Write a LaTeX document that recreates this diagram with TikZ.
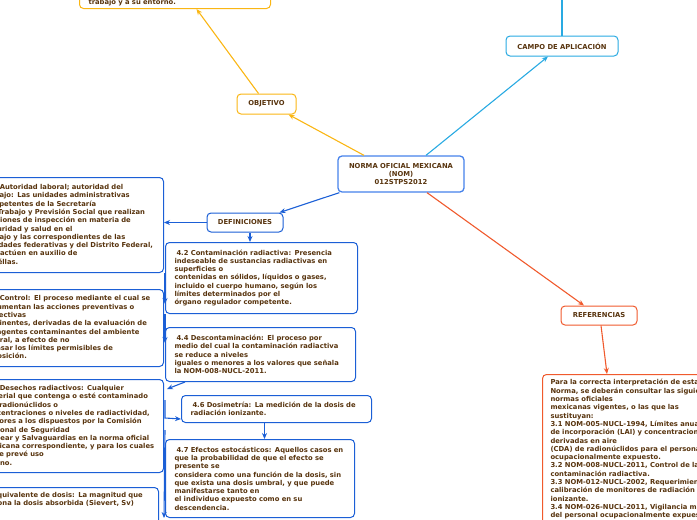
\documentclass[tikz,border=0pt]{standalone}
\usepackage{fontspec}
\setmainfont{DejaVu Sans}
\usetikzlibrary{arrows.meta}
\definecolor{tbrown}{RGB}{88,52,14}
\definecolor{bl}{RGB}{27,95,214}
\definecolor{lbl}{RGB}{41,170,226}
\definecolor{gold}{RGB}{250,182,20}
\definecolor{ored}{RGB}{240,90,45}
\newcommand{\tf}{\fontsize{6.8}{8.3}\selectfont\bfseries}
\begin{document}
\begin{tikzpicture}[x=1pt,y=-1pt,
  base/.style={fill=white, rounded corners=4pt, line width=1pt, text=tbrown, font=\tf},
  tbox/.style={base, align=left, anchor=north west, inner xsep=9pt, inner ysep=5pt},
  lbox/.style={tbox, draw=bl, inner xsep=4pt},
  sbox/.style={base, align=center, inner sep=2pt},
  con/.style={line width=1.1pt},
  arr/.style={con, -{Stealth[length=6pt,width=5pt]}}]
\useasboundingbox (0,0) rectangle (697,520);
\clip (0,0) rectangle (697,520);

% top objective box (mostly off page)
\node[tbox, draw=gold, anchor=south west, inner ysep=3pt, text width=173pt] (top) at (79,9)
 {Establecer las condiciones de seguridad e\\ higiene en los centros de trabajo donde\\ se manejen fuentes de radiaci\'on\\ ionizante, para prevenir riesgos al centro\\ trabajo y a su entorno.};

\node[sbox, draw=gold, minimum width=59pt, minimum height=20pt] (obj) at (266.5,104) {OBJETIVO};
\node[sbox, draw=lbl, minimum width=112pt, minimum height=20pt] (campo) at (562,46) {CAMPO DE APLICACIÓN};
\node[sbox, draw=ored, minimum width=76pt, minimum height=19pt] (ref) at (599,315.5) {REFERENCIAS};
\node[sbox, draw=bl, minimum width=76pt, minimum height=19pt] (def) at (245,222.5) {DEFINICIONES};
\node[sbox, draw={rgb,255:red,70;green,130;blue,235}, line width=1.3pt, minimum width=126pt, minimum height=36pt] (main) at (401,174)
 {NORMA OFICIAL MEXICANA\\(NOM)\\012STPS2012};

% definitions
\node[lbox, text width=176pt, minimum height=95pt] (lb1) at (-21,177)
 {\hspace{2pt}4.1 Autoridad laboral; autoridad del\\
 trabajo: Las unidades administrativas\\
 competentes de la Secretaría\\
 del Trabajo y Previsión Social que realizan\\
 funciones de inspección en materia de\\
 seguridad y salud en el\\
 trabajo y las correspondientes de las\\
 entidades federativas y del Distrito Federal,\\
 que actúen en auxilio de\\
 aquéllas.};
\node[tbox, draw=bl, text width=174pt, minimum height=71pt] (n42) at (165,242)
 {\hspace{2pt}4.2 Contaminación radiactiva: Presencia\\
 indeseable de sustancias radiactivas en\\
 superficies o\\
 contenidas en sólidos, líquidos o gases,\\
 incluido el cuerpo humano, según los\\
 límites determinados por el\\
 órgano regulador competente.};
\node[lbox, text width=176pt, minimum height=77pt] (lb2) at (-21,289)
 {\hspace{2pt}4.3 Control: El proceso mediante el cual se\\
 documentan las acciones preventivas o\\
 correctivas\\
 pertinentes, derivadas de la evaluación de\\
 los agentes contaminantes del ambiente\\
 laboral, a efecto de no\\
 rebasar los límites permisibles de\\
 exposición.};
\node[tbox, draw=bl, text width=172pt, minimum height=54pt] (n44) at (165,327)
 {\hspace{2pt}4.4 Descontaminación: El proceso por\\
 medio del cual la contaminación radiactiva\\
 se reduce a niveles\\
 iguales o menores a los valores que señala\\
 la NOM-008-NUCL-2011.};
\node[lbox, text width=176pt, minimum height=93pt] (lb3) at (-21,379)
 {\hspace{2pt}4.5 Desechos radiactivos: Cualquier\\
 material que contenga o esté contaminado\\
 con radionúclidos o\\
 concentraciones o niveles de radiactividad,\\
 mayores a los dispuestos por la Comisión\\
 Nacional de Seguridad\\
 Nuclear y Salvaguardias en la norma oficial\\
 mexicana correspondiente, y para los cuales\\
 no se prevé uso\\
 alguno.};
\node[tbox, draw=bl, text width=172pt, minimum height=27pt] (n46) at (181,395)
 {\hspace{2pt}4.6 Dosimetría: La medición de la dosis de\\
 radiación ionizante.};
\node[tbox, draw=bl, text width=171pt, minimum height=78pt] (n47) at (165,439)
 {\hspace{2pt}4.7 Efectos estocásticos: Aquellos casos en\\
 que la probabilidad de que el efecto se\\
 presente se\\
 considera como una función de la dosis, sin\\
 que exista una dosis umbral, y que puede\\
 manifestarse tanto en\\
 el individuo expuesto como en su\\
 descendencia.};
\node[lbox, text width=178pt] (lb4) at (-28,487)
 {\hspace{2pt}4.8 Equivalente de dosis: La magnitud que\\
 relaciona la dosis absorbida (Sievert, Sv)\\ \mbox{}\\ \mbox{}};

% references box
\node[tbox, draw=ored, inner xsep=8pt, inner ysep=5pt, text width=200pt] (refbox) at (542,374)
 {Para la correcta interpretación de esta\\
 Norma, se deberán consultar las siguientes\\
 normas oficiales\\
 mexicanas vigentes, o las que las\\
 sustituyan:\\
 3.1 NOM-005-NUCL-1994, Límites anuales\\
 de incorporación (LAI) y concentraciones\\
 derivadas en aire\\
 (CDA) de radionúclidos para el personal\\
 ocupacionalmente expuesto.\\
 3.2 NOM-008-NUCL-2011, Control de la\\
 contaminación radiactiva.\\
 3.3 NOM-012-NUCL-2002, Requerimientos y\\
 calibración de monitores de radiación\\
 ionizante.\\
 3.4 NOM-026-NUCL-2011, Vigilancia médica\\
 del personal ocupacionalmente expuesto.};

\coordinate (campotop) at (562,-5);

% main connectors
\draw[arr, gold] ([xshift=-37pt]main.north) -- ([xshift=-8pt]obj.south east);
\draw[arr, gold] ([xshift=-8pt]obj.north) -- ([xshift=21.5pt]top.south);
\draw[arr, lbl] ([xshift=25pt]main.north) -- ([xshift=-14pt]campo.south);
\draw[con, lbl] (campo.north) -- (campotop);
\draw[arr, bl] ([xshift=2pt]main.south west) -- ([xshift=-4pt]def.north east);
\draw[arr, ored] ([xshift=26pt]main.south) -- ([xshift=-15pt]ref.north);
\draw[arr, ored] ([xshift=2pt]ref.south) -- (refbox.north -| 607,0);

% definitions connectors
\draw[arr, bl] (def.west) -- (def.west -| lb1.east);
\draw[arr, bl] ([xshift=5pt]def.south) -- ([xshift=5pt]def.south |- n42.north);
\draw[arr, bl] ([xshift=1pt]lb1.south east) -- ++(0,31);
\draw[arr, bl] (n42.south west) -- ++(0,29);
\draw[arr, bl] ([xshift=20pt]n44.south west) -- ([xshift=3pt,yshift=-10pt]lb3.north east);
\draw[arr, bl] ([xshift=1pt,yshift=-21pt]lb3.north east) -- ++(0,18) -- ([yshift=4pt]n46.south west);
\draw[arr, bl] ([xshift=-12pt]n46.south) -- ([xshift=-12pt]n46.south |- n47.north);
\draw[arr, bl] ([xshift=1pt,yshift=-51pt]lb3.north east) -- (lb3.north east |- n47.south);
\end{tikzpicture}
\end{document}
